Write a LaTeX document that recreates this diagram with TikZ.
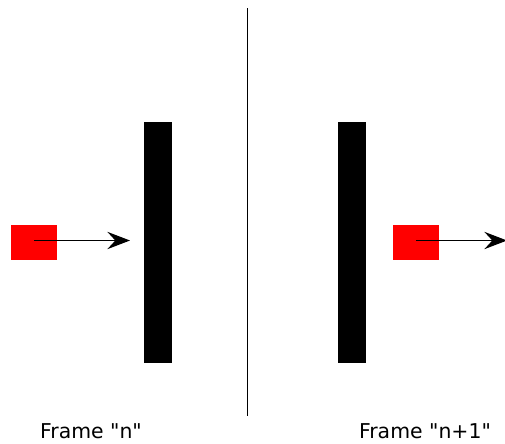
\documentclass[tikz,border=0pt]{standalone}
\usepackage{fontspec}
\setmainfont{DejaVu Sans}
\usetikzlibrary{arrows.meta}
\begin{document}
\begin{tikzpicture}[
      x=0.75pt, y=-0.75pt,
      font=\fontsize{15.3}{18}\selectfont,
      bar/.style={
        fill=black, draw=none, minimum width=21pt, minimum height=180.75pt,
        inner sep=0pt
      },
      ball/.style={
        fill=red, draw=none, minimum width=34.5pt, minimum height=26.25pt,
        inner sep=0pt
      },
      move/.style={-{Stealth[length=17pt,width=13pt,inset=6pt]}, line width=1pt}
    ]
    \useasboundingbox (0,0) rectangle (505,443);

    \draw[line width=0.9pt] (247.5,8) -- (247.5,416);

    \node[bar] (barn) at (158,242.5) {};
    \node[bar] (barm) at (352,242.5) {};

    \node[ball] (balln) at (34,242.5) {};
    \node[ball] (ballm) at (416,242.5) {};

    \coordinate (tipn) at (130,240.5);
    \coordinate (tipm) at (507,240.5);

    \draw[move] (balln.center |- tipn) -- (tipn);
    \draw[move] (ballm.center |- tipm) -- (tipm);

    \node[anchor=base] (labn) at (91,438) {Frame \textquotedbl n\textquotedbl};
    \node[anchor=base] (labm) at (425,438) {Frame \textquotedbl n+1\textquotedbl};
  \end{tikzpicture}
\end{document}
